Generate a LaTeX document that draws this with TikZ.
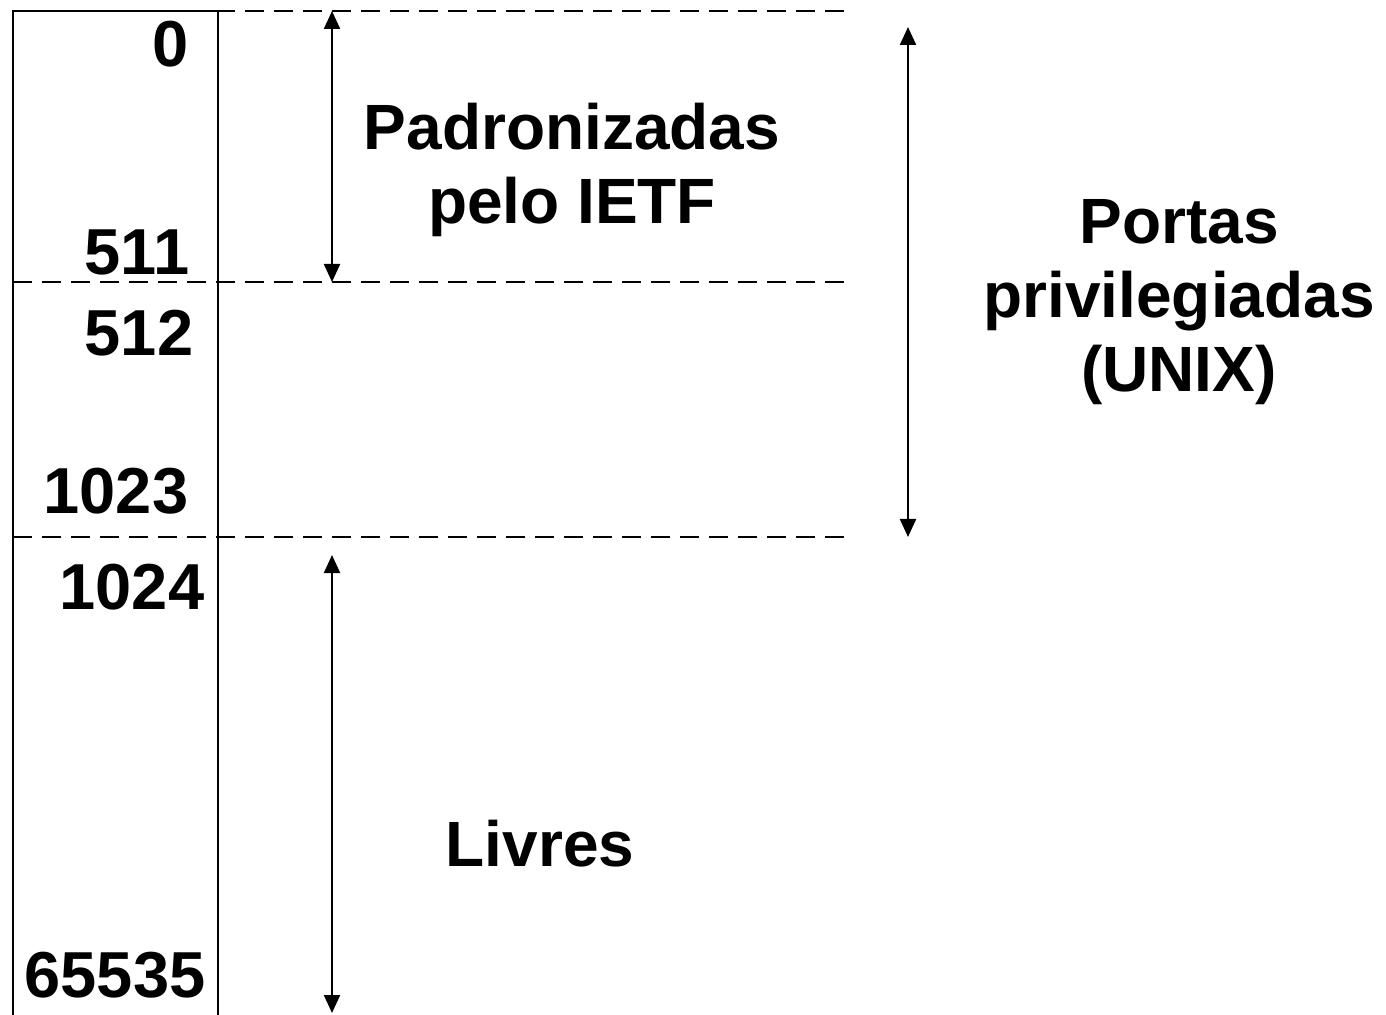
\documentclass[tikz,border=0pt]{standalone}
\usepackage{fontspec}
\setmainfont{Liberation Sans}
\usetikzlibrary{arrows.meta}
\begin{document}
\begin{tikzpicture}[x=0.5pt,y=-0.5pt,
	txt/.style={font=\bfseries\fontsize{32}{37}\selectfont, align=center, inner sep=0pt},
	num/.style={font=\bfseries\fontsize{32.5}{37}\selectfont, anchor=base, inner sep=0pt},
	sep/.style={line width=1.1pt, dash pattern=on 9.5pt off 5pt},
	span/.style={line width=1.1pt, {Triangle[length=9pt,width=8pt]}-{Triangle[length=9pt,width=8pt]}}]
	\useasboundingbox (0,0) rectangle (1386,1015);
	\draw[line width=1.2pt] (13,1030) -- (13,11) -- (218,11) -- (218,1030);
	\foreach \y in {11,282,537}
	{
		\draw[sep] (13,\y) -- (845,\y);
	}
	\foreach \n/\x/\y in {0/171/67,511/137/275,512/139/356,1023/116/514,1024/132/609,65535/115/997}
	{
		\node[num] (p\n) at (\x,\y) {\n};
	}
	\node[txt] (ietf) at (572,170) {Padronizadas\\pelo IETF};
	\node[txt] (priv) at (1179,302) {Portas\\privilegiadas\\(UNIX)};
	\node[txt, anchor=base] (livres) at (540,866) {Livres};
	\coordinate (ietf-t) at (332,11);
	\coordinate (ietf-b) at (332,282);
	\coordinate (priv-t) at (908,27);
	\coordinate (priv-b) at (908,537);
	\coordinate (livres-t) at (332,555);
	\coordinate (livres-b) at (332,1013);
	\draw[span] (ietf-t) -- (ietf-b);
	\draw[span] (priv-t) -- (priv-b);
	\draw[span] (livres-t) -- (livres-b);
\end{tikzpicture}
\end{document}
